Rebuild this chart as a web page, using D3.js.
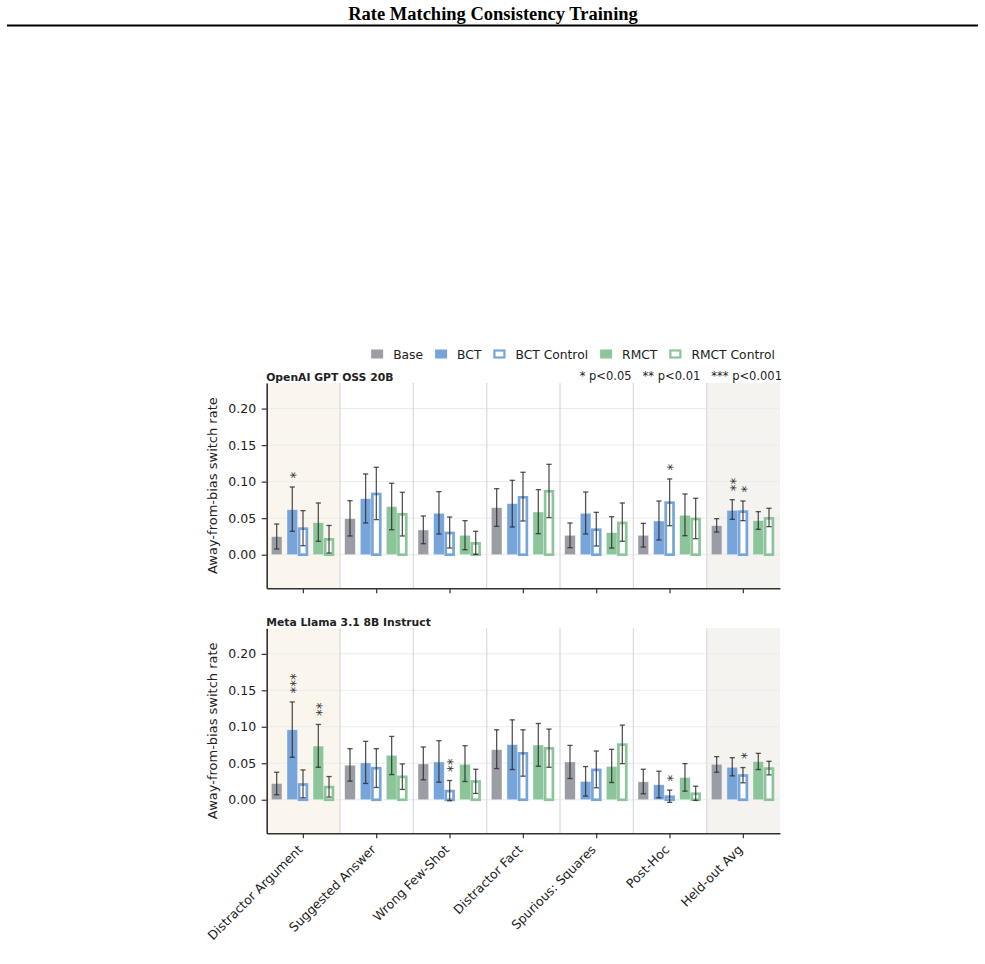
<!DOCTYPE html>
<html>
<head>
<meta charset="utf-8">
<script src="https://cdn.jsdelivr.net/npm/d3@7/dist/d3.min.js"></script>
<style>
  body { margin: 0; background: #fff; }
  svg text { font-family: "DejaVu Sans", sans-serif; }
</style>
</head>
<body>
<svg id="chart" width="985" height="964"></svg>
<script>
// ---- data ----
var categories = ["Distractor Argument", "Suggested Answer", "Wrong Few-Shot", "Distractor Fact",
    "Spurious: Squares", "Post-Hoc", "Held-out Avg"];
var series = ["Base", "BCT", "BCT Control", "RMCT", "RMCT Control"];
var yTicks = [0, 0.05, 0.10, 0.15, 0.20];
var pLegend = ["* p<0.05", "** p<0.01", "*** p<0.001"];

// [mean, ci low, ci high] per category
var gptBase = [[0.0247, 0.0078, 0.0420], [0.0493, 0.0256, 0.0740], [0.0338, 0.0150, 0.0530], [0.0644, 0.0388, 0.0904],
    [0.0265, 0.0096, 0.0434], [0.0265, 0.0105, 0.0429], [0.0397, 0.0310, 0.0493]];
var gptBCT = [[0.0616, 0.0320, 0.0927], [0.0767, 0.0434, 0.1105], [0.0566, 0.0283, 0.0863], [0.0699, 0.0379, 0.1018],
    [0.0566, 0.0283, 0.0858], [0.0461, 0.0201, 0.0735], [0.0607, 0.0484, 0.0753]];
var gptBCTControl = [[0.0356, 0.0123, 0.0603], [0.0831, 0.0480, 0.1196], [0.0297, 0.0091, 0.0516], [0.0785, 0.0461, 0.1128],
    [0.0342, 0.0119, 0.0580], [0.0712, 0.0397, 0.1037], [0.0589, 0.0466, 0.0735]];
var gptRMCT = [[0.0438, 0.0183, 0.0708], [0.0658, 0.0342, 0.0977], [0.0265, 0.0068, 0.0466], [0.0584, 0.0288, 0.0890],
    [0.0301, 0.0091, 0.0520], [0.0539, 0.0260, 0.0831], [0.0466, 0.0347, 0.0589]];
var gptRMCTControl = [[0.0210, 0.0023, 0.0400], [0.0553, 0.0256, 0.0854], [0.0155, 0.0005, 0.0320], [0.0868, 0.0507, 0.1237],
    [0.0434, 0.0183, 0.0708], [0.0489, 0.0219, 0.0772], [0.0498, 0.0384, 0.0635]];

var llamaBase = [[0.0223, 0.0068, 0.0377], [0.0473, 0.0255, 0.0700], [0.0491, 0.0273, 0.0723], [0.0686, 0.0427, 0.0959],
    [0.0518, 0.0291, 0.0745], [0.0245, 0.0082, 0.0418], [0.0486, 0.0377, 0.0591]];
var llamaBCT = [[0.0959, 0.0582, 0.1340], [0.0505, 0.0223, 0.0800], [0.0518, 0.0241, 0.0809], [0.0755, 0.0414, 0.1095],
    [0.0250, 0.0050, 0.0455], [0.0205, 0.0027, 0.0391], [0.0445, 0.0327, 0.0577]];
var llamaBCTControl = [[0.0209, 0.0027, 0.0409], [0.0432, 0.0168, 0.0700], [0.0118, -0.0014, 0.0264], [0.0636, 0.0323, 0.0959],
    [0.0409, 0.0164, 0.0668], [0.0041, -0.0036, 0.0132], [0.0332, 0.0232, 0.0441]];
var llamaRMCT = [[0.0736, 0.0445, 0.1032], [0.0609, 0.0345, 0.0868], [0.0486, 0.0250, 0.0741], [0.0750, 0.0459, 0.1045],
    [0.0455, 0.0236, 0.0691], [0.0305, 0.0118, 0.0495], [0.0523, 0.0414, 0.0636]];
var llamaRMCTControl = [[0.0173, 0.0036, 0.0318], [0.0314, 0.0141, 0.0491], [0.0250, 0.0086, 0.0418], [0.0705, 0.0445, 0.0968],
    [0.0755, 0.0495, 0.1023], [0.0082, -0.0009, 0.0186], [0.0427, 0.0341, 0.0527]];

// significance markers: [category index, series, number of stars]
var gptStars = [[0, "BCT", 1], [5, "BCT Control", 1], [6, "BCT", 2], [6, "BCT Control", 1]];
var llamaStars = [[0, "BCT", 3], [0, "RMCT", 2], [2, "BCT Control", 2], [5, "BCT Control", 1], [6, "BCT Control", 1]];

// ---- styling ----
var colors = { "Base": "#9a9da3", "BCT": "#77a5d9", "BCT Control": "#77a5d9", "RMCT": "#8bc599", "RMCT Control": "#8bc599" };
var outlined = { "BCT Control": true, "RMCT Control": true };
// bar centre inside a category, as a fraction of the category width
var slotPos = d3.scaleOrdinal().domain(series).range([0.136, 0.349, 0.495, 0.704, 0.850]);

var svg = d3.select("#chart");
var left = 266.7, right = 780;

// page header
svg.append("text")
    .attr("x", 493).attr("y", 20)
    .attr("text-anchor", "middle")
    .style("font-family", "'Liberation Serif', 'Times New Roman', serif")
    .style("font-weight", "bold").style("font-size", "18.5px")
    .text("Rate Matching Consistency Training");
svg.append("line")
    .attr("x1", 7).attr("x2", 978).attr("y1", 25.5).attr("y2", 25.5)
    .attr("stroke", "#000").attr("stroke-width", 2);

var x = d3.scaleBand().domain(categories).range([left, right]).padding(0);

function drawPanel(top, bottom, title, rows, stars, showLabels) {
    var y = d3.scaleLinear().domain([-0.046, 0.235]).range([bottom, top]);
    var g = svg.append("g");

    // shaded categories
    g.append("rect").attr("x", x(categories[0])).attr("y", top)
        .attr("width", x.bandwidth()).attr("height", bottom - top).attr("fill", "#faf6ee");
    g.append("rect").attr("x", x(categories[6])).attr("y", top)
        .attr("width", x.bandwidth()).attr("height", bottom - top).attr("fill", "#f4f3ef");

    // grid
    g.selectAll(".hgrid").data(yTicks).enter().append("line")
        .attr("x1", left).attr("x2", right)
        .attr("y1", function(d) { return y(d); }).attr("y2", function(d) { return y(d); })
        .attr("stroke", "#ebebee").attr("stroke-width", 1);
    g.selectAll(".vgrid").data(categories.slice(1)).enter().append("line")
        .attr("x1", function(d) { return x(d); }).attr("x2", function(d) { return x(d); })
        .attr("y1", top).attr("y2", bottom)
        .attr("stroke", "#dedee2").attr("stroke-width", 1.4);

    var bars = [];
    series.forEach(function(s, si) {
        rows[si].forEach(function(v, ci) {
            bars.push({ cat: categories[ci], s: s, mean: v[0], lo: v[1], hi: v[2] });
        });
    });
    function cx(d) { return x(d.cat) + slotPos(d.s) * x.bandwidth(); }

    // filled bars
    g.selectAll(".fbar").data(bars.filter(function(d) { return !outlined[d.s]; })).enter().append("rect")
        .attr("x", function(d) { return cx(d) - 5.3; })
        .attr("width", 10.6)
        .attr("y", function(d) { return y(d.mean); })
        .attr("height", function(d) { return y(0) - y(d.mean); })
        .attr("fill", function(d) { return colors[d.s]; })
        .attr("stroke", "#fff").attr("stroke-width", 0.6).attr("stroke-opacity", 0.6);

    // outlined (control) bars
    g.selectAll(".obar").data(bars.filter(function(d) { return outlined[d.s]; })).enter().append("rect")
        .attr("x", function(d) { return cx(d) - 3.9; })
        .attr("width", 7.8)
        .attr("y", function(d) { return y(d.mean); })
        .attr("height", function(d) { return y(0) - y(d.mean); })
        .attr("fill", "#fff")
        .attr("stroke", function(d) { return colors[d.s]; }).attr("stroke-width", 2.7);

    // error bars
    var eb = g.selectAll(".err").data(bars).enter().append("g")
        .attr("stroke", "#2b2b2b").attr("stroke-opacity", 0.8).attr("stroke-width", 1.3);
    eb.append("line")
        .attr("x1", cx).attr("x2", cx)
        .attr("y1", function(d) { return y(d.hi); }).attr("y2", function(d) { return y(d.lo); });
    eb.append("line")
        .attr("x1", function(d) { return cx(d) - 2.6; }).attr("x2", function(d) { return cx(d) + 2.6; })
        .attr("y1", function(d) { return y(d.hi); }).attr("y2", function(d) { return y(d.hi); });
    eb.append("line")
        .attr("x1", function(d) { return cx(d) - 2.6; }).attr("x2", function(d) { return cx(d) + 2.6; })
        .attr("y1", function(d) { return y(d.lo); }).attr("y2", function(d) { return y(d.lo); });

    // significance stars: one vertical run of "*" above the CI
    var starMarks = stars.map(function(st) {
        var b = bars.find(function(d) { return d.cat === categories[st[0]] && d.s === st[1]; });
        return { b: b, n: st[2] };
    });
    g.selectAll(".star").data(starMarks).enter().append("text")
        .attr("transform", function(d) {
            return "translate(" + cx(d.b) + "," + (y(d.b.hi) - 8.5) + ") rotate(-90)";
        })
        .attr("dy", "0.57em")
        .attr("text-anchor", "start")
        .style("font-size", "13.5px").attr("fill", "#333")
        .text(function(d) { return "*".repeat(d.n); });

    // axes
    var yAxis = d3.axisLeft(y).tickValues(yTicks).tickFormat(d3.format(".2f")).tickSize(5).tickSizeOuter(0);
    var ya = g.append("g").attr("transform", "translate(" + left + ",0)").call(yAxis);
    ya.selectAll("text").style("font-size", "12.5px").attr("fill", "#222").attr("dx", "-0.2em");
    ya.selectAll("line").attr("stroke", "#333").attr("stroke-width", 1.2);
    ya.select(".domain").attr("stroke", "#333").attr("stroke-width", 1.6);

    var xAxis = d3.axisBottom(x).tickSize(5).tickSizeOuter(0);
    var xa = g.append("g").attr("transform", "translate(0," + bottom + ")").call(xAxis);
    xa.selectAll("line").attr("stroke", "#333").attr("stroke-width", 1.2);
    xa.select(".domain").attr("stroke", "#333").attr("stroke-width", 1.6);
    if (showLabels) {
        xa.selectAll("text")
            .attr("y", 0).attr("dy", 0)
            .attr("text-anchor", "end")
            .attr("transform", "translate(0,17) rotate(-45)")
            .style("font-size", "12.5px").attr("fill", "#222");
    } else {
        xa.selectAll("text").remove();
    }

    // y label
    g.append("text")
        .attr("transform", "translate(216.5," + ((top + bottom) / 2) + ") rotate(-90)")
        .attr("text-anchor", "middle")
        .style("font-size", "13px").attr("fill", "#222")
        .text("Away-from-bias switch rate");

    // panel title
    g.append("text")
        .attr("x", left - 0.5).attr("y", top - 2)
        .style("font-size", "10.8px").style("font-weight", "bold").attr("fill", "#222")
        .text(title);
}

drawPanel(383, 588.3, "OpenAI GPT OSS 20B",
    [gptBase, gptBCT, gptBCTControl, gptRMCT, gptRMCTControl], gptStars, false);
drawPanel(628.3, 833.3, "Meta Llama 3.1 8B Instruct",
    [llamaBase, llamaBCT, llamaBCTControl, llamaRMCT, llamaRMCTControl], llamaStars, true);

// significance key
svg.append("text")
    .attr("x", 782).attr("y", 379.5)
    .attr("text-anchor", "end")
    .style("font-size", "11.5px").style("white-space", "pre").attr("fill", "#222")
    .text(pLegend.join("   "));

// series legend, laid out so it ends at x = 775
var legend = svg.append("g");
var items = legend.selectAll(".item").data(series).enter().append("g");
items.append("rect")
    .attr("x", function(d) { return outlined[d] ? 1 : 0; })
    .attr("y", function(d) { return outlined[d] ? -3.5 : -4.5; })
    .attr("width", function(d) { return outlined[d] ? 10 : 12; })
    .attr("height", function(d) { return outlined[d] ? 7 : 9; })
    .attr("fill", function(d) { return outlined[d] ? "#fff" : colors[d]; })
    .attr("stroke", function(d) { return outlined[d] ? colors[d] : "none"; })
    .attr("stroke-width", 2.2);
items.append("text")
    .attr("x", 22).attr("y", 4.5)
    .style("font-size", "12.3px").attr("fill", "#222")
    .text(function(d) { return d; });
var widths = [];
items.each(function() { widths.push(22 + d3.select(this).select("text").node().getComputedTextLength()); });
var gap = 12;
var total = d3.sum(widths) + gap * (widths.length - 1);
var pos = 775 - total;
items.attr("transform", function(d, i) {
    var t = "translate(" + pos + ",354)";
    pos += widths[i] + gap;
    return t;
});
</script>
</body>
</html>
